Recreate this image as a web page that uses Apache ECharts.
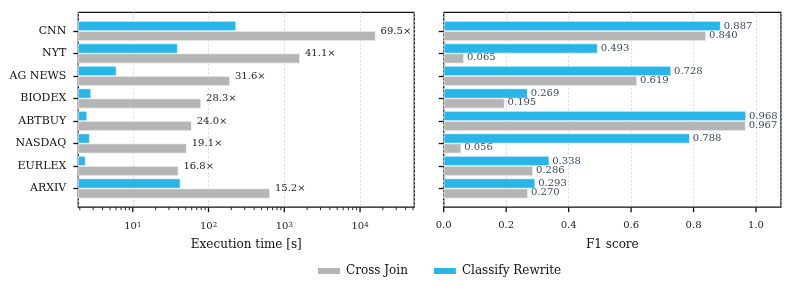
<!DOCTYPE html>
<html>
<head>
<meta charset="utf-8">
<script src="https://cdn.jsdelivr.net/npm/echarts@6/dist/echarts.min.js"></script>
<style>html,body{margin:0;padding:0;background:#fff}#c{width:793px;height:294px}</style>
</head>
<body>
<div id="c"></div>
<script>
const categories = ['CNN', 'NYT', 'AG NEWS', 'BIODEX', 'ABTBUY', 'NASDAQ', 'EURLEX', 'ARXIV'];
const timeCrossJoin = [16050, 1611, 192, 79.8, 60, 51.6, 40, 647];
const timeClassify = [231, 39.2, 6.08, 2.82, 2.5, 2.7, 2.38, 42.5];
const speedupLabels = ['69.5×', '41.1×', '31.6×', '28.3×', '24.0×', '19.1×', '16.8×', '15.2×'];
const f1CrossJoin = [0.840, 0.065, 0.619, 0.195, 0.967, 0.056, 0.286, 0.270];
const f1Classify = [0.887, 0.493, 0.728, 0.269, 0.968, 0.788, 0.338, 0.293];
const seriesNames = ['Cross Join', 'Classify Rewrite'];

const FONT = 'DejaVu Serif';
const GRAY = '#b5b5b5';
const BLUE = '#29b5e8';
const FRAME = '#111';
const chart = echarts.init(document.getElementById('c'), null, {renderer: 'canvas'});

const L = {left: 78.3, width: 336};
const R = {left: 443.7, width: 337.3};
const frameTop = 12.3, frameH = 194.9, barTop = 19.75, barH = 180;
const LOGMIN = 1.91, LOGMAX = 52000;

function logFmt(v) {
  const e = Math.log10(v);
  if (Math.abs(e - Math.round(e)) > 1e-6) return '';
  return '{b|10}{s|' + Math.round(e) + '}';
}
const splitStyle = {show: true, lineStyle: {color: '#cfcfcf', width: 0.8, type: [2, 2]}};
const barBorder = {borderColor: '#ffffff', borderWidth: 0.6};

const option = {
  animation: false,
  backgroundColor: '#fff',
  textStyle: {fontFamily: FONT},
  grid: [
    {left: L.left, top: frameTop, width: L.width, height: frameH, show: true, borderColor: FRAME, borderWidth: 1.3, backgroundColor: 'transparent'},
    {left: L.left, top: barTop, width: L.width, height: barH},
    {left: R.left, top: frameTop, width: R.width, height: frameH, show: true, borderColor: FRAME, borderWidth: 1.3, backgroundColor: 'transparent'},
    {left: R.left, top: barTop, width: R.width, height: barH}
  ],
  xAxis: [
    {gridIndex: 0, type: 'log', logBase: 10, min: LOGMIN, max: LOGMAX,
      axisLine: {show: false}, axisTick: {show: false},
      axisLabel: {formatter: logFmt, margin: 14, showMinLabel: false, showMaxLabel: false, color: '#222',
        rich: {b: {fontSize: 10, fontFamily: FONT, color: '#222'}, s: {fontSize: 7, fontFamily: FONT, color: '#222', verticalAlign: 'top', lineHeight: 8}}},
      splitLine: splitStyle,
      name: 'Execution time [s]', nameLocation: 'middle', nameGap: 32,
      nameTextStyle: {fontSize: 12, fontFamily: FONT, color: '#111'}},
    {gridIndex: 1, type: 'log', logBase: 10, min: LOGMIN, max: LOGMAX, show: false},
    {gridIndex: 2, type: 'value', min: 0, max: 1.08, interval: 0.2,
      axisLine: {show: false}, axisTick: {show: false},
      axisLabel: {formatter: v => (v > 1.05 ? '' : v.toFixed(1)), margin: 13, fontSize: 10, color: '#222', fontFamily: FONT, showMaxLabel: false},
      splitLine: splitStyle,
      name: 'F1 score', nameLocation: 'middle', nameGap: 32,
      nameTextStyle: {fontSize: 12, fontFamily: FONT, color: '#111'}},
    {gridIndex: 3, type: 'value', min: 0, max: 1.08, interval: 0.2, show: false}
  ],
  yAxis: [
    {gridIndex: 0, type: 'value', show: false},
    {gridIndex: 1, type: 'category', inverse: true, data: categories,
      axisLine: {show: false},
      axisTick: {show: true, alignWithLabel: true, length: 5, lineStyle: {color: FRAME, width: 1.3}},
      axisLabel: {margin: 12, fontSize: 11, color: '#111', fontFamily: FONT}},
    {gridIndex: 2, type: 'value', show: false},
    {gridIndex: 3, type: 'category', inverse: true, data: categories,
      axisLine: {show: false},
      axisTick: {show: true, alignWithLabel: true, length: 5, lineStyle: {color: FRAME, width: 1.3}},
      axisLabel: {show: false}}
  ],
  legend: {
    data: seriesNames, left: 311, top: 260, itemWidth: 24, itemHeight: 8, itemGap: 24,
    icon: 'rect', textStyle: {fontSize: 12, fontFamily: FONT, color: '#111', padding: [0, 0, 0, 0]}
  },
  series: [
    {name: 'Classify Rewrite', type: 'bar', xAxisIndex: 1, yAxisIndex: 1, data: timeClassify,
      barWidth: 10, barGap: '0%', itemStyle: Object.assign({color: BLUE}, barBorder)},
    {name: 'Cross Join', type: 'bar', xAxisIndex: 1, yAxisIndex: 1, data: timeCrossJoin,
      barWidth: 10, barGap: '0%', itemStyle: Object.assign({color: GRAY}, barBorder),
      label: {show: true, position: 'right', distance: 5, offset: [0, -5], fontSize: 10, fontFamily: FONT, color: '#222',
        formatter: p => speedupLabels[p.dataIndex]}},
    {name: 'Classify Rewrite', type: 'bar', xAxisIndex: 3, yAxisIndex: 3, data: f1Classify,
      barWidth: 10, barGap: '0%', itemStyle: Object.assign({color: BLUE}, barBorder),
      label: {show: true, position: 'right', distance: 3, fontSize: 10, fontFamily: FONT, color: '#3a4a5e',
        formatter: p => p.value.toFixed(3)}},
    {name: 'Cross Join', type: 'bar', xAxisIndex: 3, yAxisIndex: 3, data: f1CrossJoin,
      barWidth: 10, barGap: '0%', itemStyle: Object.assign({color: GRAY}, barBorder),
      label: {show: true, position: 'right', distance: 3, offset: [0, -1], fontSize: 10, fontFamily: FONT, color: '#3a4a5e',
        formatter: p => p.value.toFixed(3)}}
  ]
};
chart.setOption(option);

// tick marks drawn at axis values through the library's own scale
const axisY = frameTop + frameH;
const gfx = [];
function tick(x, len, w) {
  gfx.push({type: 'line', silent: true, z: 10,
    shape: {x1: x, y1: axisY, x2: x, y2: axisY + len},
    style: {stroke: FRAME, lineWidth: w}});
}
for (let e = 0; e <= 4; e++) {
  for (let m = 1; m <= 9; m++) {
    const v = m * Math.pow(10, e);
    if (v < LOGMIN || v > LOGMAX) continue;
    const x = chart.convertToPixel({xAxisIndex: 0}, v);
    if (m === 1) tick(x, 5, 1.3); else tick(x, 3, 0.9);
  }
}
for (let i = 0; i <= 5; i++) {
  const x = chart.convertToPixel({xAxisIndex: 2}, i * 0.2);
  tick(x, 5, 1.3);
}
chart.setOption({graphic: gfx});
</script>
</body>
</html>
